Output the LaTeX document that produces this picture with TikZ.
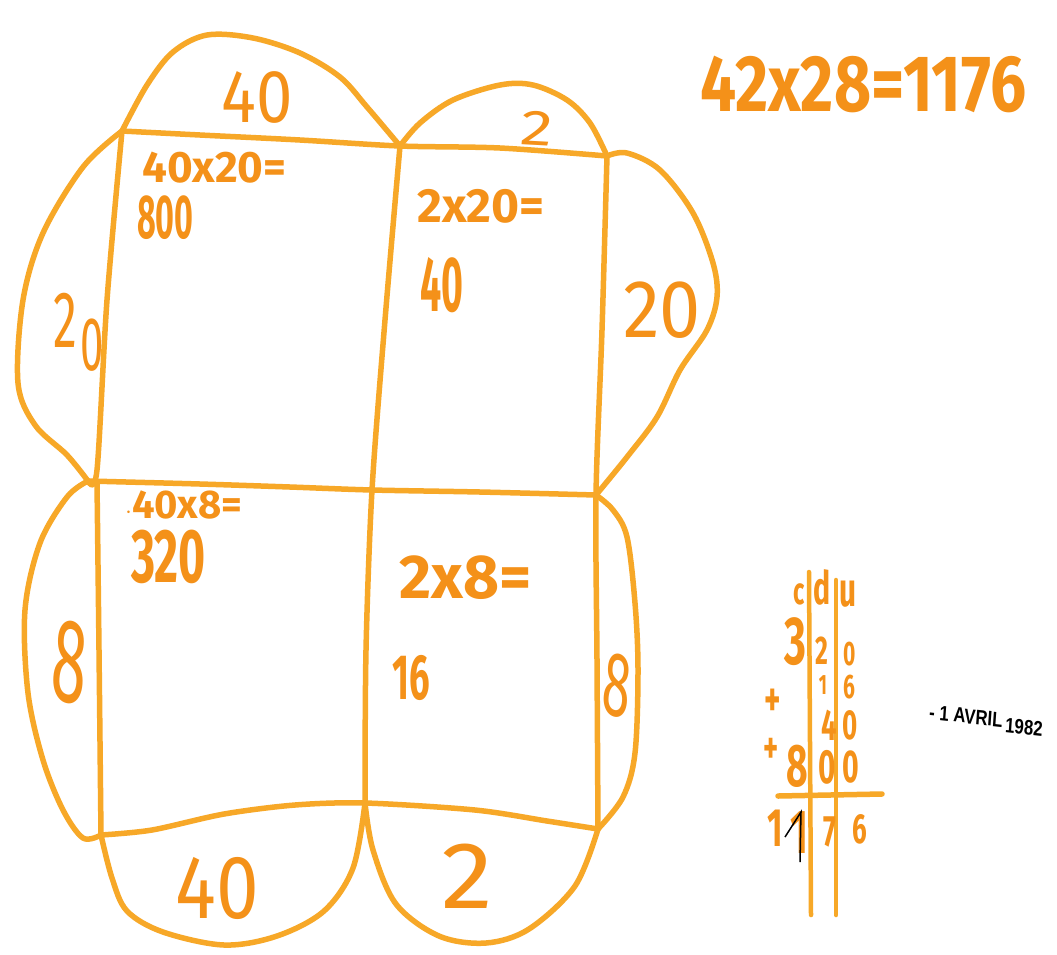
\documentclass[tikz,border=0pt]{standalone}
\usepackage{fontspec}
\setmainfont{Fira Sans}
\newfontfamily\stampfont{Liberation Sans}
\definecolor{marker}{RGB}{247,168,40}
\definecolor{ink}{RGB}{244,145,25}
\begin{document}
\begin{tikzpicture}[x=1pt,y=-1pt,
  pen/.style={draw=marker,line width=5.5pt,line cap=round,line join=round},
  lbl/.style={text=ink,inner sep=0pt},
  big/.style={lbl,font=\fontsize{#1}{#1}\selectfont},
  bold/.style={lbl,font=\bfseries\fontsize{#1}{#1}\selectfont},
  cd/.style={lbl,font=\bfseries\fontsize{#1}{#1}\selectfont,xscale=0.62},
  stamp/.style={inner sep=0pt,font=\stampfont\bfseries\fontsize{21}{21}\selectfont,xscale=0.8}]
\useasboundingbox (0,0) rectangle (1057,954);
\fill[white] (0,0) rectangle (1057,954);
% corners
\coordinate (TL) at (122,131);
\coordinate (TM) at (400,146);
\coordinate (TR) at (607,156);
\coordinate (ML) at (88,481);
\coordinate (MM) at (372,490);
\coordinate (MR) at (596,495);
\coordinate (BL) at (101,835);
\coordinate (BM) at (365,803);
\coordinate (BR) at (598,829);
% grid
\draw[pen] plot[smooth,tension=0.5] coordinates {(TL) (200,135) (300,140) (TM) (500,148) (TR)};
\draw[pen] plot[smooth,tension=0.5] coordinates {(ML) (200,484) (290,487) (MM) (480,492) (MR)};
\draw[pen] plot[smooth,tension=0.5] coordinates {(BL) (152,830) (224,814) (295,805) (BM) (475,810) (547,821) (BR)};
\draw[pen] plot[smooth,tension=0.5] coordinates {(TL) (107,300) (97,470) (ML)};
\draw[pen] plot[smooth,tension=0.5] coordinates {(97,482) (99,650) (BL)};
\draw[pen] plot[smooth,tension=0.5] coordinates {(TM) (385,320) (MM) (366,650) (BM)};
\draw[pen] plot[smooth,tension=0.5] coordinates {(TR) (602,330) (MR) (597,660) (BR)};
% lobes
\draw[pen] plot[smooth,tension=0.55] coordinates {(TL) (147,85) (173,52) (207,35) (253,38) (300,53) (340,77) (367,107) (TM)};
\draw[pen] plot[smooth,tension=0.55] coordinates {(TM) (420,123) (453,100) (500,85) (533,85) (567,100) (590,123) (TR)};
\draw[pen] plot[smooth,tension=0.55] coordinates {(TL) (83,167) (43,233) (23,300) (18,383) (35,425) (67,455) (ML)};
\draw[pen] plot[smooth,tension=0.55] coordinates {(TR) (627,153) (660,170) (693,213) (713,263) (717,297) (707,330) (680,370) (657,417) (627,457) (MR)};
\draw[pen] plot[smooth,tension=0.55] coordinates {(ML) (67,497) (40,543) (25,610) (28,693) (43,760) (63,810) (83,838) (BL)};
\draw[pen] plot[smooth,tension=0.55] coordinates {(MR) (613,510) (627,537) (635,603) (638,670) (635,753) (623,797) (BR)};
\draw[pen] plot[smooth,tension=0.55] coordinates {(BL) (112,878) (127,911) (163,932) (224,945) (277,936) (324,911) (353,868) (BM)};
\draw[pen] plot[smooth,tension=0.55] coordinates {(BM) (373,850) (396,904) (439,936) (486,943) (529,929) (575,886) (BR)};
% outer labels
\node[big=75,xscale=0.87] (t40) at (257,97) {40};
\node[big=50,xscale=1.3,rotate=-4] (t2) at (537,128) {2};
\node[big=80,xscale=0.6] (l2) at (65,320) {2};
\node[big=76,xscale=0.55] (l0) at (92,345) {0};
\node[big=82,xscale=0.9] (r20) at (662,310) {20};
\node[big=120,xscale=0.53,rotate=-8] (l8) at (70,662) {8};
\node[big=92,xscale=0.55,rotate=-10] (r8) at (617,686) {8};
\node[big=90,xscale=0.85] (b40) at (217,888) {40};
\node[big=95,xscale=1.1] (b2) at (467,876) {2};
% inner products
\node[bold=44,anchor=west] (p1) at (142,168) {40x20=};
\node[bold=62,xscale=0.52,anchor=west] (p1r) at (137,218) {800};
\node[bold=48,anchor=west] (p2) at (417,206) {2x20=};
\node[bold=78,xscale=0.48,anchor=west] (p2r) at (420,285) {40};
\node[bold=40,anchor=west] (p3) at (125,505) {$\cdot$40x8=};
\node[bold=76,xscale=0.61,anchor=west] (p3r) at (131,557) {320};
\node[bold=62,anchor=west] (p4) at (399,578) {2x8=};
\node[bold=64,xscale=0.57,anchor=west] (p4r) at (392,678) {16};
% title
\node[lbl,font=\bfseries\fontsize{80}{80}\selectfont,xscale=0.8,anchor=west] (eq) at (700,84) {42x28=1176};
% date stamp
\node[stamp,rotate=-5] (date1) at (966,716) {- 1 AVRIL};
\node[stamp,rotate=-5] (date2) at (1024,727) {1982};
% column addition
\coordinate (V1a) at (809,572); \coordinate (V1b) at (811,915);
\coordinate (V2a) at (836,580); \coordinate (V2b) at (836,915);
\coordinate (Ha) at (778,796); \coordinate (Hb) at (882,794);
\draw[pen,line width=4.5pt] (V1a) -- (V1b);
\draw[pen,line width=4.5pt] (V2a) -- (V2b);
\draw[pen] (Ha) -- (Hb);
\node[cd=38] (hc) at (799,594) {c};
\node[cd=46] (hd) at (822,587) {d};
\node[cd=48] (hu) at (848,594) {u};
\node[cd=68] (r1a) at (795,642) {3};
\node[cd=40] (r1b) at (822,651) {2};
\node[cd=34] (r1c) at (850,654) {0};
\node[cd=28] (r2b) at (823,685) {1};
\node[cd=34] (r2c) at (849,687) {6};
\node[cd=44] (r3b) at (829,725) {4};
\node[cd=42] (r3c) at (850,725) {0};
\node[cd=50] (pl1) at (773,703) {+};
\node[cd=46] (pl2) at (771,751) {+};
\node[cd=60] (r4a) at (797,766) {8};
\node[cd=48] (r4b) at (827,767) {0};
\node[cd=46] (r4c) at (851,767) {0};
\node[cd=54] (s1) at (775,828) {1};
\node[cd=62] (s2) at (799,833) {1};
\node[cd=44] (s3) at (830,832) {7};
\node[cd=42] (s4) at (860,829) {6};
\coordinate (k1) at (785,837); \coordinate (k2) at (801,812); \coordinate (k3) at (800,862);
\draw[black,line width=1.5pt] (k1) -- (k2) -- (k3);
\end{tikzpicture}
\end{document}
